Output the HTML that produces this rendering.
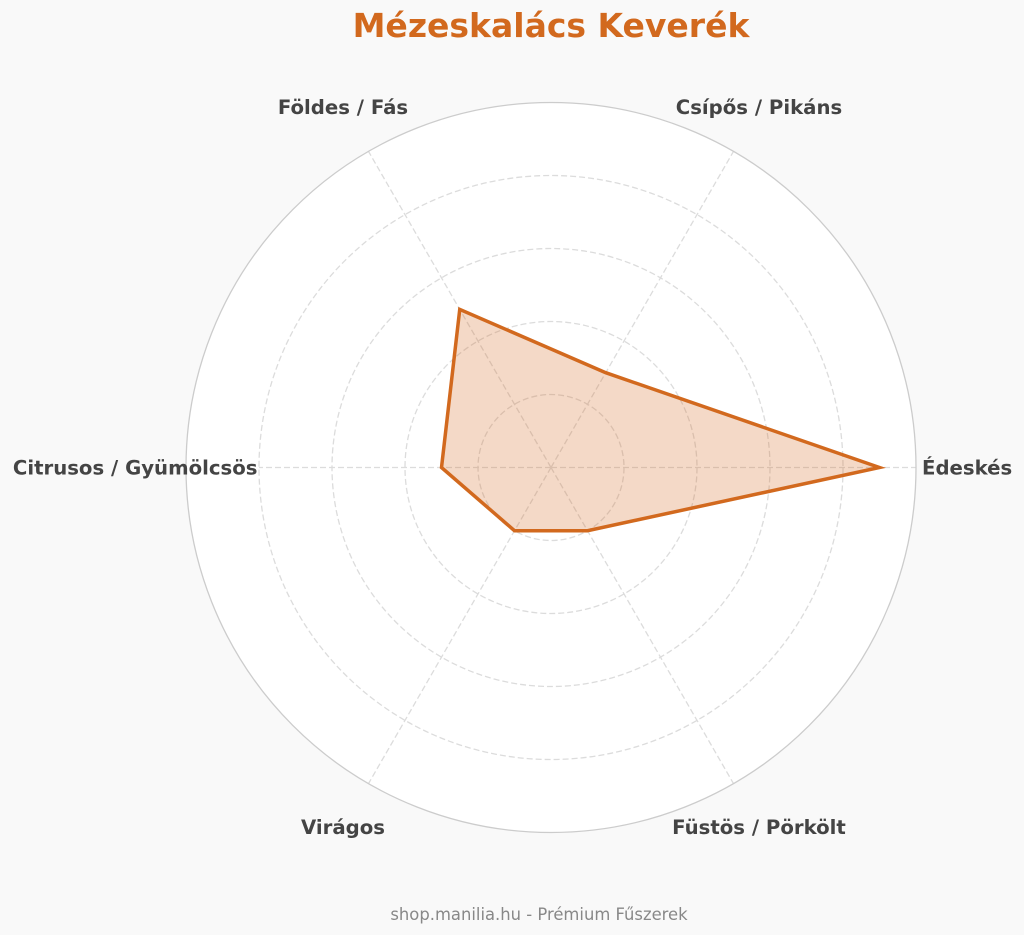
<!DOCTYPE html>
<html>
<head>
<meta charset="utf-8">
<style>
html,body{margin:0;padding:0;background:#f9f9f9;}
svg{display:block;}
</style>
</head>
<body>
<svg width="1024" height="935" viewBox="0 0 1024 935" xmlns="http://www.w3.org/2000/svg" font-family="'DejaVu Sans','Liberation Sans',sans-serif">
<rect x="0" y="0" width="1024" height="935" fill="#f9f9f9"/>
<circle cx="551" cy="467.5" r="365" fill="#ffffff"/>
<g fill="none" stroke="#dcdcdc" stroke-width="1.3" stroke-dasharray="6,3">
<circle cx="551" cy="467.5" r="73"/>
<circle cx="551" cy="467.5" r="146"/>
<circle cx="551" cy="467.5" r="219"/>
<circle cx="551" cy="467.5" r="292"/>
<line x1="551" y1="467.5" x2="916" y2="467.5"/>
<line x1="551" y1="467.5" x2="733.5" y2="151.4"/>
<line x1="551" y1="467.5" x2="368.5" y2="151.4"/>
<line x1="551" y1="467.5" x2="259" y2="467.5"/>
<line x1="551" y1="467.5" x2="368.5" y2="783.6"/>
<line x1="551" y1="467.5" x2="733.5" y2="783.6"/>
</g>
<circle cx="551" cy="467.5" r="365" fill="none" stroke="#cccccc" stroke-width="1.3"/>
<polygon points="879.5,467.5 605.75,372.7 459.75,309.4 441.5,467.5 514.5,530.7 587.5,530.7" fill="#d2691e" fill-opacity="0.25" stroke="#d2691e" stroke-width="3.5" stroke-linejoin="miter"/>
<text x="551" y="37" text-anchor="middle" font-size="33" font-weight="bold" fill="#d2691e">Mézeskalács Keverék</text>
<g font-size="19.7" font-weight="bold" fill="#444444">
<text x="922" y="474.5" text-anchor="start">Édeskés</text>
<text x="759" y="114" text-anchor="middle">Csípős / Pikáns</text>
<text x="343" y="114" text-anchor="middle">Földes / Fás</text>
<text x="257.5" y="474.5" text-anchor="end">Citrusos / Gyümölcsös</text>
<text x="343" y="834" text-anchor="middle">Virágos</text>
<text x="759" y="834" text-anchor="middle">Füstös / Pörkölt</text>
</g>
<text x="539" y="920" text-anchor="middle" font-size="16.4" fill="#888888">shop.manilia.hu - Prémium Fűszerek</text>
</svg>
</body>
</html>
